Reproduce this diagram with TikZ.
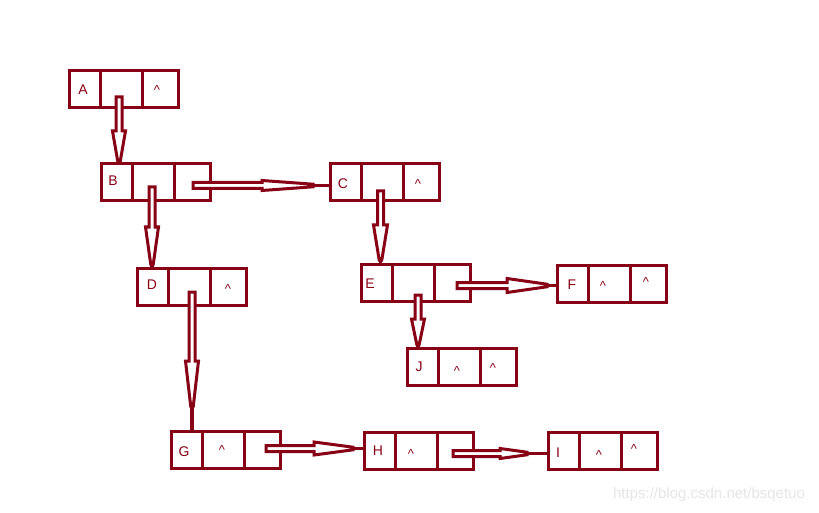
\documentclass[tikz,border=0pt]{standalone}
\usepackage{fontspec}
\setmainfont{Liberation Sans}
\usetikzlibrary{calc}
\definecolor{pdark}{RGB}{136,0,21}
\definecolor{wmgray}{RGB}{230,230,230}
\newcommand\hwShaft{3pt}
\newcommand\hwNeck{1.3pt}
\tikzset{
  cell/.style={draw=pdark, line width=3pt, rectangle, inner sep=0pt, outer sep=0pt, minimum height=37pt},
  cellA/.style={cell, minimum width=31pt},
  cellB/.style={cell, minimum width=42pt},
  cellC/.style={cell, minimum width=36pt},
  letter/.style={text=pdark, font=\fontsize{14}{14}\selectfont, inner sep=0pt},
  caret/.style={letter, font=\fontsize{13}{13}\selectfont, yshift=-2pt},
  hollow/.style={draw=pdark, fill=white, line width=3pt, line join=miter},
  neck/.style={draw=pdark, line width=3.8pt},
  watermark/.style={text=wmgray, font=\fontsize{15}{15}\selectfont, inner sep=0pt}
}
% #1 name, #2 x, #3 y (top-left)
\newcommand\listbox[3]{%
  \node[cellA, anchor=north west] (#1-1) at (#2,#3) {};
  \node[cellB, anchor=west] (#1-2) at (#1-1.east) {};
  \node[cellC, anchor=west] (#1-3) at (#1-2.east) {};
}
% #1 start, #2 target, #3 head start distance, #4 solid length, #5 head half width
\newcommand\hollowarrow[5]{%
  \coordinate (ha-h) at ($(#1)!#3!(#2)$);
  \coordinate (ha-k) at ($(#2)!#4!(#1)$);
  \draw[hollow] ($(#1)!\hwShaft!90:(#2)$) -- ($(ha-h)!\hwShaft!90:(#2)$)
     -- ($(ha-h)!#5!90:(#2)$) -- ($(ha-k)!\hwNeck!90:(#2)$)
     -- ($(ha-k)!\hwNeck!-90:(#2)$) -- ($(ha-h)!#5!-90:(#2)$)
     -- ($(ha-h)!\hwShaft!-90:(#2)$) -- ($(#1)!\hwShaft!-90:(#2)$) -- cycle;
  \draw[neck] (ha-k) -- (#2);
}
\begin{document}
\begin{tikzpicture}[x=1pt, y=-1pt]
\useasboundingbox (0,0) rectangle (819,513);
\fill[white] (0,0) rectangle (819,513);

% boxes
\listbox{A}{69}{71}
\listbox{B}{101}{164}
\listbox{C}{330}{164}
\listbox{D}{137}{268}
\listbox{E}{361}{264}
\listbox{F}{557}{265}
\listbox{J}{407}{348}
\listbox{G}{171}{431}
\listbox{H}{364}{432}
\listbox{I}{548}{432}

% letters
\node[letter] (tA) at (83,90) {A};
\node[letter] (tB) at (113,181) {B};
\node[letter] (tC) at (343,184) {C};
\node[letter] (tD) at (152,285) {D};
\node[letter] (tE) at (370,284) {E};
\node[letter] (tF) at (572,285) {F};
\node[letter] (tJ) at (419,367) {J};
\node[letter] (tG) at (184,452) {G};
\node[letter] (tH) at (378,451) {H};
\node[letter] (tI) at (558,453) {I};

% carets
\node[caret] (cA3) at (157,88) {\textasciicircum};
\node[caret] (cC3) at (418,182) {\textasciicircum};
\node[caret] (cD3) at (228,287) {\textasciicircum};
\node[caret] (cF2) at (603,284) {\textasciicircum};
\node[caret] (cF3) at (646,280) {\textasciicircum};
\node[caret] (cJ2) at (457,369) {\textasciicircum};
\node[caret] (cJ3) at (493,366) {\textasciicircum};
\node[caret] (cG2) at (222,448) {\textasciicircum};
\node[caret] (cH2) at (411,452) {\textasciicircum};
\node[caret] (cI2) at (599,453) {\textasciicircum};
\node[caret] (cI3) at (634,447) {\textasciicircum};

% arrows
\coordinate (ab-s) at (119,97);
\coordinate (ab-t) at (ab-s |- B-1.north);
\hollowarrow{ab-s}{ab-t}{34pt}{3pt}{6.5pt}

\coordinate (bd-s) at (152,187);
\coordinate (bd-t) at (bd-s |- D-1.north);
\hollowarrow{bd-s}{bd-t}{40pt}{4pt}{6.5pt}

\coordinate (bc-s) at (193,185.5);
\coordinate (bc-t) at (bc-s -| C-1.west);
\hollowarrow{bc-s}{bc-t}{69pt}{17pt}{5pt}

\coordinate (ce-s) at (380.5,191);
\coordinate (ce-t) at (ce-s |- E-1.north);
\hollowarrow{ce-s}{ce-t}{34pt}{4pt}{7pt}

\coordinate (dg-s) at (192,292);
\coordinate (dg-t) at (dg-s |- G-1.north);
\hollowarrow{dg-s}{dg-t}{69pt}{25pt}{6.5pt}

\coordinate (ef-s) at (457,285.5);
\coordinate (ef-t) at (ef-s -| F-1.west);
\hollowarrow{ef-s}{ef-t}{50pt}{10pt}{7pt}

\coordinate (ej-s) at (418,295);
\coordinate (ej-t) at (ej-s |- J-1.north);
\hollowarrow{ej-s}{ej-t}{24pt}{4pt}{6.5pt}

\coordinate (gh-s) at (266,448.5);
\coordinate (gh-t) at (gh-s -| H-1.west);
\hollowarrow{gh-s}{gh-t}{48pt}{11pt}{6.5pt}

\coordinate (hi-s) at (453,453.5);
\coordinate (hi-t) at (hi-s -| I-1.west);
\hollowarrow{hi-s}{hi-t}{47pt}{21pt}{5pt}

% watermark
\node[watermark] (wm) at (709,495) {https://blog.csdn.net/bsqetuo};
\end{tikzpicture}
\end{document}
